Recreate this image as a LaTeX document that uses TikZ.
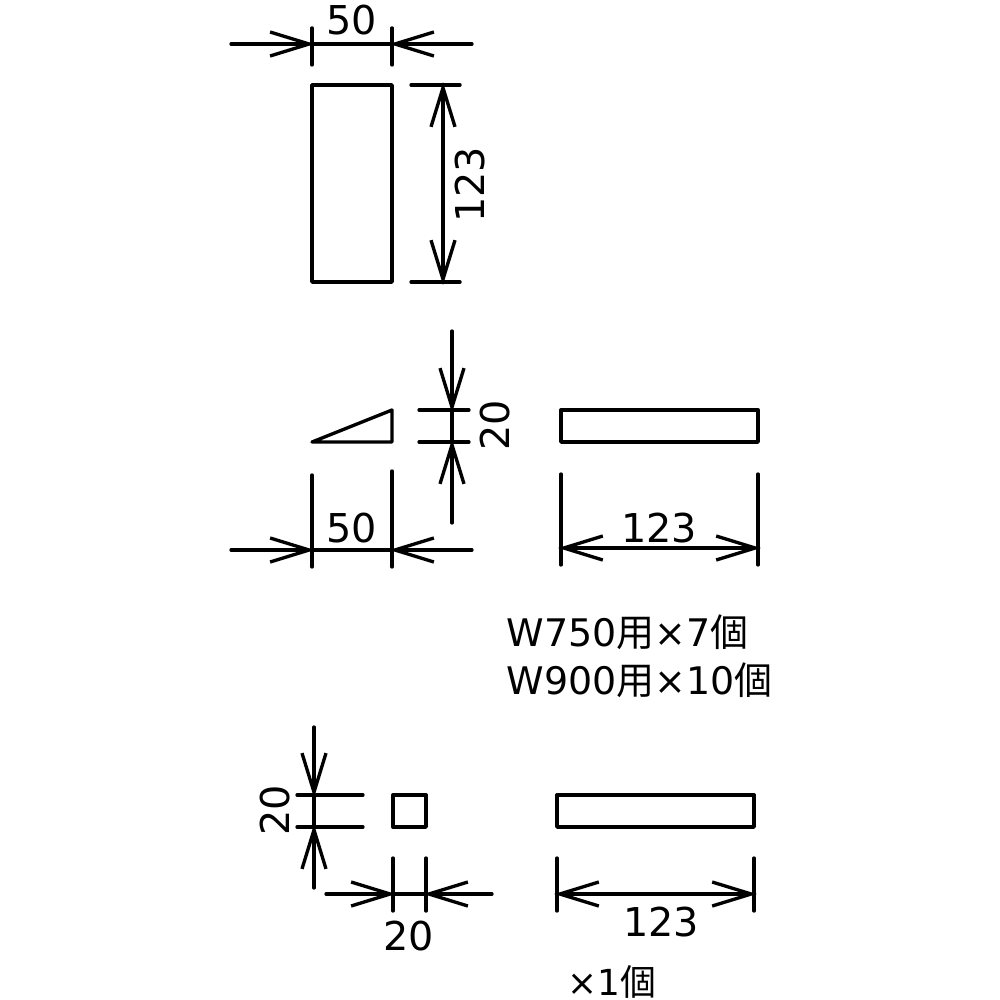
\documentclass[tikz,border=0pt]{standalone}
\usepackage{fontspec}
\setmainfont{DejaVu Sans}
\newfontfamily\cjkfont{Noto Sans CJK JP}
\usetikzlibrary{arrows.meta}
\newcommand{\yo}{{\cjkfont 用}}
\newcommand{\ko}{{\cjkfont 個}}
\tikzset{
	dimtip/.tip={Straight Barb[length=3.9mm,width=2.4mm,line width=0.95pt]},
	dimin/.style={-{dimtip},shorten >=-0.8pt},
	dimout/.style={{dimtip}-{dimtip},shorten >=-0.8pt,shorten <=-0.8pt},
	part/.style={draw,line width=0.95pt,line join=round,inner sep=0,outer sep=0,minimum width=#1},
	label/.style={inner sep=0,font=\fontsize{11.3pt}{13pt}\selectfont},
	note/.style={inner sep=0,anchor=west,font=\fontsize{10.8pt}{13pt}\selectfont}
}
\begin{document}
\begin{tikzpicture}[x=0.01cm,y=-0.01cm,line width=0.95pt,line cap=round,line join=round]
	\useasboundingbox (0,0) rectangle (1000,1000);
	% top view
	\node[part=0.8cm,minimum height=1.97cm] (plate) at (352,183.5) {};
	\coordinate (pa) at (231,44);
	\coordinate (pb) at (472,44);
	\coordinate (pc) at (443,183);
	\draw[dimin] (pa) -- (plate.west |- pa);
	\draw[dimin] (pb) -- (plate.east |- pb);
	\draw (plate.west |- pa) -- (plate.east |- pa);
	\draw 
	(plate.north west) ++(0,-57) -- ++(0,37)
	(plate.north east) ++(0,-57) -- ++(0,37)
	(plate.north east) ++(19,0) -- ++(49,0)
	(plate.south east) ++(19,0) -- ++(49,0);
	\draw[dimout] (pc |- plate.north) -- (pc |- plate.south);
	\node[label] (w50a) at (352,20) {50};
	\node[label,rotate=90] (h123) at (470,185) {123};
	% wedge
	\coordinate (wl) at (312,442);
	\coordinate (wt) at (392,410);
	\coordinate (wr) at (392,442);
	\draw (wl) -- (wt) -- (wr) -- cycle;
	\coordinate (wa) at (452,331);
	\coordinate (wb) at (452,523);
	\draw[dimin] (wa) -- (wa |- wt);
	\draw[dimin] (wb) -- (wb |- wr);
	\draw (wa |- wt) -- (wa |- wr);
	\draw 
	(419,410) -- (469,410)
	(419,442) -- (469,442)
	(wl |- 0,475) -- (wl |- 0,567)
	(wr |- 0,471) -- (wr |- 0,567);
	\coordinate (wc) at (231,550);
	\coordinate (wd) at (472,550);
	\draw[dimin] (wc) -- (wl |- wc);
	\draw[dimin] (wd) -- (wr |- wd);
	\draw (wl |- wc) -- (wr |- wc);
	\node[label,rotate=90] (h20a) at (495,425) {20};
	\node[label] (w50b) at (352,528) {50};
	% wedge, long side
	\node[part=1.97cm,minimum height=0.32cm] (side) at (659.5,426) {};
	\draw 
	(side.west |- 0,474) -- (side.west |- 0,565)
	(side.east |- 0,474) -- (side.east |- 0,565);
	\coordinate (sd) at (659,548);
	\draw[dimout] (side.west |- sd) -- (side.east |- sd);
	\node[label] (l123a) at (659,528) {123};
	\node[note] (qa) at (505,632) {W750\yo×7\ko};
	\node[note] (qb) at (505,680) {W900\yo×10\ko};
	% square bar
	\node[part=0.33cm,minimum height=0.32cm] (bar) at (409.5,811) {};
	\coordinate (ba) at (314,727);
	\coordinate (bb) at (314,888);
	\draw[dimin] (ba) -- (ba |- bar.north);
	\draw[dimin] (bb) -- (bb |- bar.south);
	\draw (ba |- bar.north) -- (ba |- bar.south);
	\draw 
	(297,795) -- (363,795)
	(297,827) -- (363,827)
	(bar.west |- 0,858) -- (bar.west |- 0,911)
	(bar.east |- 0,858) -- (bar.east |- 0,911);
	\coordinate (bc) at (326,894);
	\coordinate (bd) at (492,894);
	\draw[dimin] (bc) -- (bar.west |- bc);
	\draw[dimin] (bd) -- (bar.east |- bd);
	\draw (bar.west |- bc) -- (bar.east |- bc);
	\node[label,rotate=90] (h20b) at (275,810) {20};
	\node[label] (w20) at (409,936) {20};
	% bar, long side
	\node[part=1.97cm,minimum height=0.32cm] (rod) at (655.5,811) {};
	\draw 
	(rod.west |- 0,858) -- (rod.west |- 0,911)
	(rod.east |- 0,858) -- (rod.east |- 0,911);
	\coordinate (rd) at (655,894);
	\draw[dimout] (rod.west |- rd) -- (rod.east |- rd);
	\node[label] (l123b) at (661,922) {123};
	\node[note,font=\fontsize{10.2pt}{13pt}\selectfont] (qc) at (566,982) {×1\ko};
\end{tikzpicture}
\end{document}
